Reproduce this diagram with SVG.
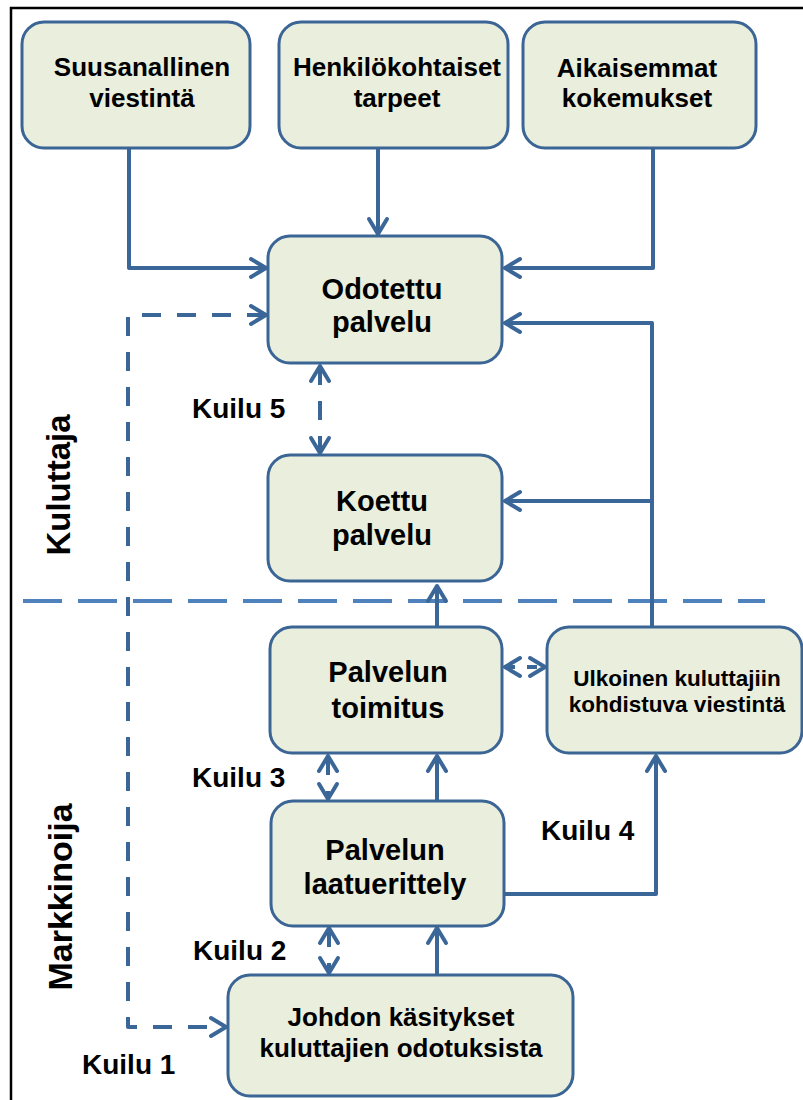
<svg xmlns="http://www.w3.org/2000/svg" width="803" height="1100" viewBox="0 0 803 1100">
<defs>
<style>
.box{fill:#e9eedd;stroke:#3b6595;stroke-width:3}
.t{font-family:"Liberation Sans",Arial,sans-serif;font-weight:bold;fill:#000;text-anchor:middle}
.lbl{font-family:"Liberation Sans",Arial,sans-serif;font-weight:bold;fill:#000;font-size:28px}
.c{fill:none;stroke:#3a6698;stroke-width:4;stroke-linejoin:round}
.d{stroke-dasharray:19 16}
</style>
<marker id="ah" markerUnits="userSpaceOnUse" viewBox="-20 -12 24 24" refX="0" refY="0" markerWidth="24" markerHeight="24" orient="auto-start-reverse">
<path d="M-15,-9 L0,0 L-15,9" fill="none" stroke="#3a6698" stroke-width="4" stroke-linecap="round" stroke-linejoin="round"/>
</marker>
</defs>
<rect width="803" height="1100" fill="#fff"/>
<rect x="11" y="8" width="820" height="1120" fill="none" stroke="#000" stroke-width="2.5"/>

<g id="separator">
<line x1="23" y1="601" x2="765" y2="601" stroke="#4f81bd" stroke-width="4" stroke-dasharray="39 16"/>
</g>

<g id="connectors">
<path class="c" d="M129,148 V268 H266" marker-end="url(#ah)"/>
<path class="c" d="M378,148 V234" marker-end="url(#ah)"/>
<path class="c" d="M653,148 V268 H505" marker-end="url(#ah)"/>
<path class="c" d="M652,627 V323 H505" marker-end="url(#ah)"/>
<path class="c" d="M652,501 H505" marker-end="url(#ah)"/>
<path class="c" d="M437,627 V586" marker-end="url(#ah)"/>
<path class="c" d="M437,800 V756" marker-end="url(#ah)"/>
<path class="c" d="M437,975 V928" marker-end="url(#ah)"/>
<path class="c" d="M504,894 H656 V756" marker-end="url(#ah)"/>
<path class="c d" d="M266,315 H128 V1027 H226" marker-start="url(#ah)" marker-end="url(#ah)"/>
<path class="c d" d="M320,366 V453" marker-start="url(#ah)" marker-end="url(#ah)"/>
<path class="c d" d="M328,756 V799" marker-start="url(#ah)" marker-end="url(#ah)"/>
<path class="c d" d="M329,928 V973" marker-start="url(#ah)" marker-end="url(#ah)"/>
<path class="c" d="M505,667 H545" stroke-dasharray="10 12" marker-start="url(#ah)" marker-end="url(#ah)"/>
</g>

<g id="n-suusanallinen">
<rect class="box" x="22" y="22" width="228" height="126" rx="22"/>
<text class="t" font-size="26" x="142" y="76">Suusanallinen</text>
<text class="t" font-size="26" x="142" y="107">viestintä</text>
</g>
<g id="n-henkilokohtaiset">
<rect class="box" x="279" y="22" width="229" height="126" rx="22"/>
<text class="t" font-size="26" x="397" y="76">Henkilökohtaiset</text>
<text class="t" font-size="26" x="397" y="107">tarpeet</text>
</g>
<g id="n-aikaisemmat">
<rect class="box" x="523" y="22" width="233" height="126" rx="22"/>
<text class="t" font-size="26" x="637" y="77">Aikaisemmat</text>
<text class="t" font-size="26" x="637" y="107">kokemukset</text>
</g>
<g id="n-odotettu">
<rect class="box" x="268" y="236" width="234" height="127" rx="22"/>
<text class="t" font-size="29" x="382" y="299">Odotettu</text>
<text class="t" font-size="29" x="382" y="332">palvelu</text>
</g>
<g id="n-koettu">
<rect class="box" x="268" y="455" width="234" height="126" rx="22"/>
<text class="t" font-size="29" x="382" y="511">Koettu</text>
<text class="t" font-size="29" x="382" y="545">palvelu</text>
</g>
<g id="n-toimitus">
<rect class="box" x="270" y="627" width="232" height="126" rx="22"/>
<text class="t" font-size="29" x="388" y="682">Palvelun</text>
<text class="t" font-size="29" x="388" y="718">toimitus</text>
</g>
<g id="n-ulkoinen">
<rect class="box" x="547" y="627" width="255" height="126" rx="22"/>
<text class="t" font-size="22.5" x="677" y="686">Ulkoinen kuluttajiin</text>
<text class="t" font-size="22.5" x="677" y="712">kohdistuva viestintä</text>
</g>
<g id="n-laatuerittely">
<rect class="box" x="271" y="801" width="233" height="125" rx="22"/>
<text class="t" font-size="29" x="385" y="860">Palvelun</text>
<text class="t" font-size="29" x="385" y="894">laatuerittely</text>
</g>
<g id="n-johdon">
<rect class="box" x="228" y="975" width="345" height="121" rx="22"/>
<text class="t" font-size="26" x="401" y="1026">Johdon käsitykset</text>
<text class="t" font-size="26" x="401" y="1057">kuluttajien odotuksista</text>
</g>

<g id="labels">
<text class="lbl" x="192" y="418">Kuilu 5</text>
<text class="lbl" x="192" y="787">Kuilu 3</text>
<text class="lbl" x="541" y="840">Kuilu 4</text>
<text class="lbl" x="193" y="960">Kuilu 2</text>
<text class="lbl" x="82" y="1074">Kuilu 1</text>
<text class="t" font-size="33" transform="translate(70,485) rotate(-90)">Kuluttaja</text>
<text class="t" font-size="34" transform="translate(72,897) rotate(-90)">Markkinoija</text>
</g>
</svg>
